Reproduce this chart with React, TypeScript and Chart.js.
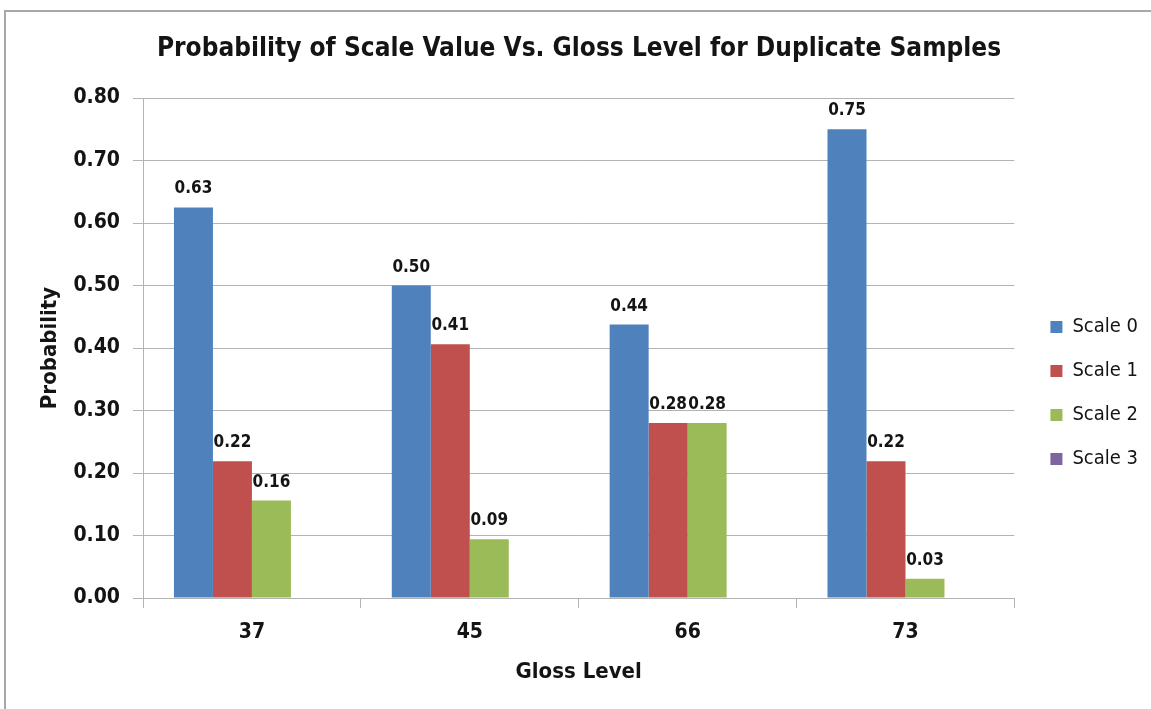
import React, { useEffect, useRef } from "react";
import { Chart, registerables } from "chart.js";

Chart.register(...registerables);

const categories = ["37", "45", "66", "73"];
const seriesNames = ["Scale 0", "Scale 1", "Scale 2", "Scale 3"];
const scale0 = [0.625, 0.5, 0.4375, 0.75];
const scale1 = [0.219, 0.406, 0.28, 0.219];
const scale2 = [0.156, 0.094, 0.28, 0.031];
const scale3 = [0, 0, 0, 0];
const seriesColors = ["#4F81BD", "#C0504D", "#9BBB59", "#8064A2"];

const FONT = "'DejaVu Sans Condensed', 'DejaVu Sans', sans-serif";
const TEXT = "#141414";
const GRID = "#b3b3b3";

const framePlugin = {
  id: "frame",
  beforeDraw(chart: any) {
    const ctx = chart.ctx;
    ctx.save();
    ctx.fillStyle = "#ffffff";
    ctx.fillRect(0, 0, chart.width, chart.height);
    ctx.strokeStyle = "#a8a8a8";
    ctx.lineWidth = 2;
    ctx.beginPath();
    ctx.moveTo(5, chart.height + 5);
    ctx.lineTo(5, 11);
    ctx.lineTo(chart.width + 5, 11);
    ctx.stroke();
    ctx.restore();
  },
};

const labelPlugin = {
  id: "barLabels",
  afterDatasetsDraw(chart: any) {
    const ctx = chart.ctx;
    ctx.save();
    ctx.font = `bold 17px ${FONT}`;
    ctx.fillStyle = TEXT;
    ctx.textAlign = "center";
    ctx.textBaseline = "alphabetic";
    chart.data.datasets.forEach((ds: any, di: number) => {
      const meta = chart.getDatasetMeta(di);
      meta.data.forEach((bar: any, i: number) => {
        const v = ds.data[i];
        if (!v) return;
        ctx.fillText(v.toFixed(2), bar.x, bar.y - 14);
      });
    });
    ctx.restore();
  },
};

export default function App() {
  const ref = useRef<HTMLCanvasElement>(null);

  useEffect(() => {
    if (!ref.current) return;
    const allSeries = [scale0, scale1, scale2, scale3];
    const chart = new Chart(ref.current, {
      type: "bar",
      data: {
        labels: categories,
        datasets: allSeries.map((d, i) => ({
          label: seriesNames[i],
          data: d,
          backgroundColor: seriesColors[i],
          borderWidth: 0,
          categoryPercentage: 0.716,
          barPercentage: 1,
        })),
      },
      options: {
        responsive: false,
        animation: false,
        devicePixelRatio: 1,
        layout: { padding: { left: 10, top: 10, right: 3, bottom: 0 } },
        plugins: {
          tooltip: { enabled: false },
          title: {
            display: true,
            text: "Probability of Scale Value Vs. Gloss Level for Duplicate Samples",
            color: TEXT,
            font: { family: FONT, size: 26, weight: "bold", lineHeight: 1.2 },
            padding: { top: 24, bottom: 32.8 },
          },
          legend: {
            position: "right",
            fullSize: true,
            title: {
              display: true,
              text: " ",
              font: { size: 10, lineHeight: 1 },
              padding: { top: 57, bottom: 0 },
            },
            labels: {
              boxWidth: 12,
              boxHeight: 12,
              padding: 24,
              color: TEXT,
              font: { family: FONT, size: 20 },
            },
          },
        },
        scales: {
          x: {
            offset: true,
            grid: {
              offset: true,
              drawOnChartArea: false,
              drawTicks: true,
              tickLength: 10,
              color: GRID,
            },
            border: { display: true, color: GRID, width: 1 },
            ticks: {
              color: TEXT,
              padding: 12,
              font: { family: FONT, size: 21, weight: "bold" },
            },
            title: {
              display: true,
              text: "Gloss Level",
              color: TEXT,
              font: { family: FONT, size: 22, weight: "bold", lineHeight: 1.2 },
              padding: { top: 0, bottom: 24 },
            },
            afterFit: (s: any) => {
              s.height = 111;
            },
          },
          y: {
            min: 0,
            max: 0.8,
            grid: { color: GRID, tickLength: 10, drawTicks: true },
            border: { display: true, color: GRID, width: 1 },
            ticks: {
              stepSize: 0.1,
              color: TEXT,
              padding: 13,
              font: { family: FONT, size: 21, weight: "bold" },
              callback: (v: any) => Number(v).toFixed(2),
            },
            title: {
              display: true,
              text: "Probability",
              color: TEXT,
              font: { family: FONT, size: 22, weight: "bold", lineHeight: 1.2 },
              padding: { top: 27, bottom: 0 },
            },
            afterFit: (s: any) => {
              s.width = 133;
            },
          },
          spacer: {
            position: "right",
            display: true,
            grid: { display: false },
            border: { display: false },
            ticks: { display: false },
            afterFit: (s: any) => {
              s.width = 12;
            },
          },
        },
      } as any,
      plugins: [framePlugin, labelPlugin],
    });
    return () => chart.destroy();
  }, []);

  return (
    <div style={{ position: "fixed", left: 0, top: 0, width: 1151, height: 709, background: "#fff" }}>
      <canvas ref={ref} width={1151} height={709} style={{ width: 1151, height: 709, display: "block" }} />
    </div>
  );
}
